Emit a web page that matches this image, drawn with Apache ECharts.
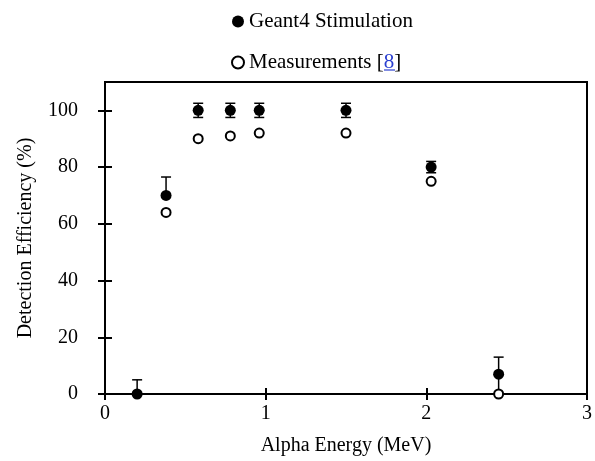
<!DOCTYPE html>
<html>
<head>
<meta charset="utf-8">
<script src="https://cdn.jsdelivr.net/npm/echarts@6/dist/echarts.min.js"></script>
<style>
  html, body { margin: 0; padding: 0; background: #fff; }
  #chart { width: 595px; height: 461px; }
</style>
</head>
<body>
<div id="chart"></div>
<script>
// alpha detection efficiency vs energy
var energy     = [0.20, 0.38, 0.58, 0.78, 0.96, 1.50, 2.03, 2.45];
var simEff     = [0,    70,   100,  100,  100,  100,  80,   7];
var simErrUp   = [5,    6.5,  2.5,  2.5,  2.5,  2.5,  2,    6];
var simErrDown = [0,    0,    2.5,  2.5,  2.5,  2.5,  2,    7];
var measEff    = [0,    64,   90,   91,   92,   92,   75,   0];
var measEnergy = [null, 0.38, 0.58, 0.78, 0.96, 1.50, 2.03, 2.45];
var xTicks = [0, 1, 2, 3];
var yTicks = [0, 20, 40, 60, 80, 100];

var font = '"Liberation Serif", "Times New Roman", serif';

var simData = [], errData = [], measData = [];
for (var i = 0; i < energy.length; i++) {
	simData.push([energy[i], simEff[i]]);
	errData.push([energy[i], simEff[i] - simErrDown[i], simEff[i] + simErrUp[i]]);
	if (measEnergy[i] !== null) measData.push([measEnergy[i], measEff[i]]);
}

function renderErr(params, api) {
	var x = api.value(0);
	var lo = api.coord([x, api.value(1)]);
	var hi = api.coord([x, api.value(2)]);
	var cap = 5;
	var st = { stroke: '#000', lineWidth: 1.5 };
	return {
		type: 'group',
		children: [
			{ type: 'line', shape: { x1: lo[0], y1: lo[1], x2: hi[0], y2: hi[1] }, style: st },
			{ type: 'line', shape: { x1: hi[0] - cap, y1: hi[1], x2: hi[0] + cap, y2: hi[1] }, style: st },
			{ type: 'line', shape: { x1: lo[0] - cap, y1: lo[1], x2: lo[0] + cap, y2: lo[1] }, style: st }
		]
	};
}

var myChart = echarts.init(document.getElementById('chart'));
var option = {
	animation: false,
	backgroundColor: '#fff',
	legend: {
		orient: 'vertical',
		left: 226,
		top: 6,
		itemGap: 20,
		itemWidth: 12,
		itemHeight: 12,
		data: ['Geant4 Stimulation', 'Measurements [8]'],
		textStyle: {
			fontFamily: font, fontSize: 21, color: '#000',
			rich: { ref: { fontFamily: font, fontSize: 21, color: '#2a3fd0' } }
		},
		formatter: function (name) {
			if (name === 'Measurements [8]') return 'Measurements [{ref|8}]';
			return name;
		}
	},
	// underline of the reference link "8"
	graphic: [{
		type: 'line',
		shape: { x1: 384, y1: 70, x2: 395, y2: 70 },
		style: { stroke: '#2a3fd0', lineWidth: 1.2 }
	}],
	grid: {
		left: 105, right: 5, top: 82, bottom: 66,
		show: true, borderColor: '#000', borderWidth: 2
	},
	xAxis: [{
		type: 'value', min: 0, max: 3, interval: 1,
		name: 'Alpha Energy (MeV)', nameLocation: 'middle', nameGap: 42,
		nameTextStyle: { fontFamily: font, fontSize: 20, color: '#000' },
		axisLine: { lineStyle: { color: '#000', width: 2 } },
		axisTick: { show: true, length: 6, lineStyle: { color: '#000', width: 2 } },
		axisLabel: { fontFamily: font, fontSize: 20, color: '#000', margin: 10,
			formatter: function (v) { return xTicks.indexOf(v) >= 0 ? String(v) : ''; } },
		splitLine: { show: false }
	}, {
		type: 'value', min: 0, max: 3, interval: 1, position: 'bottom',
		axisLine: { show: false },
		axisTick: { show: true, inside: true, length: 6, lineStyle: { color: '#000', width: 2 } },
		axisLabel: { show: false }, splitLine: { show: false }
	}],
	yAxis: [{
		type: 'value', min: 0, max: 110, interval: 20,
		name: 'Detection Efficiency (%)', nameLocation: 'middle', nameGap: 69,
		nameTextStyle: { fontFamily: font, fontSize: 20, color: '#000' },
		axisLine: { lineStyle: { color: '#000', width: 2 } },
		axisTick: { show: true, length: 7, customValues: yTicks, lineStyle: { color: '#000', width: 2 } },
		axisLabel: { fontFamily: font, fontSize: 20, color: '#000', margin: 27, customValues: yTicks },
		splitLine: { show: false }
	}, {
		type: 'value', min: 0, max: 110, interval: 20, position: 'left',
		axisLine: { show: false },
		axisTick: { show: true, inside: true, length: 7, customValues: yTicks, lineStyle: { color: '#000', width: 2 } },
		axisLabel: { show: false }, splitLine: { show: false }
	}],
	series: [{
		name: 'Error',
		type: 'custom',
		renderItem: renderErr,
		data: errData,
		z: 2
	}, {
		name: 'Measurements [8]',
		type: 'scatter',
		symbol: 'circle',
		symbolSize: 9,
		itemStyle: { color: '#fff', borderColor: '#000', borderWidth: 2, opacity: 1 },
		data: measData,
		z: 3
	}, {
		name: 'Geant4 Stimulation',
		type: 'scatter',
		symbol: 'circle',
		symbolSize: 11,
		itemStyle: { color: '#000', opacity: 1 },
		data: simData,
		z: 4
	}]
};
myChart.setOption(option);
window.onresize = myChart.resize;
</script>
</body>
</html>
